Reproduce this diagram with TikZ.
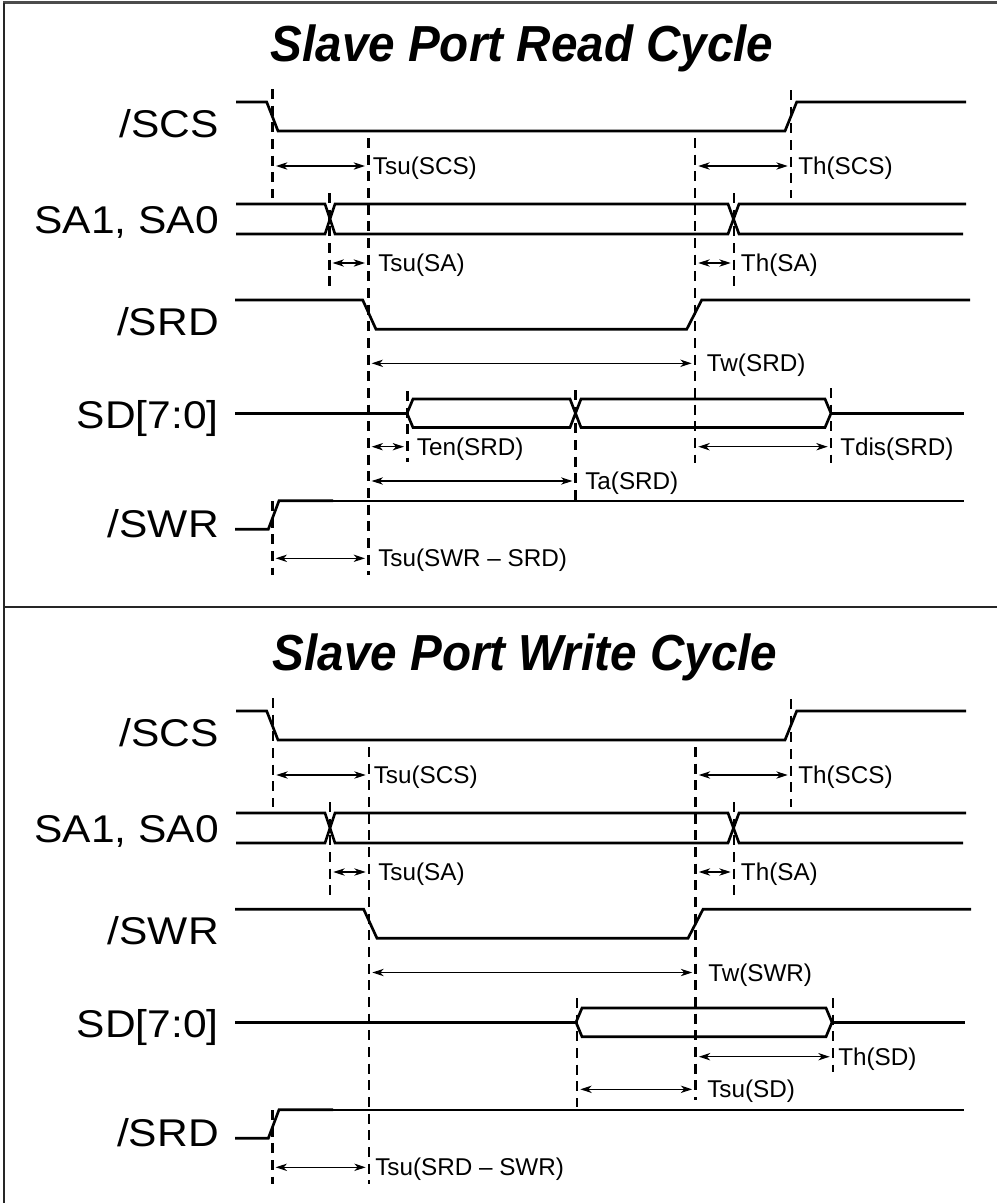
\documentclass[tikz,border=0pt]{standalone}
\usepackage{fontspec}
\setmainfont{Liberation Sans}
\newfontfamily\biglabfont[FakeStretch=1.1]{Liberation Sans}
\newfontfamily\titlefont[FakeStretch=0.94]{Liberation Sans}
\usetikzlibrary{arrows.meta}
\tikzset{
  wave/.style={line width=2pt, line join=miter},
  thinwave/.style={line width=1.6pt},
  guide/.style={line width=1.9pt, dash pattern=on 7.5pt off 5pt},
  dimarr/.style={line width=0.85pt, {Stealth[length=8.5pt,width=5.5pt,inset=2.5pt]}-{Stealth[length=8.5pt,width=5.5pt,inset=2.5pt]}, shorten <=2.5pt, shorten >=2.5pt},
  tlabel/.style={font=\fontsize{18.2pt}{21pt}\selectfont, inner sep=0pt, anchor=base west},
  siglabel/.style={font={\biglabfont\fontsize{29pt}{32pt}\selectfont}, inner sep=0pt, anchor=base east},
  titlelabel/.style={font={\titlefont\fontsize{38pt}{42pt}\selectfont\bfseries\itshape}, inner sep=0pt, anchor=base},
  framegray/.style={line width=1.6pt, draw=black!70},
  framedark/.style={line width=1.5pt, draw=black!85}
}
\newcommand\tmeas[6]{%
  \coordinate (#1L) at (#2,#4);
  \coordinate (#1R) at (#3,#4);
  \draw[dimarr] (#1L) -- (#1R);
  \node[tlabel] (#1T) at (#5,#4+8.6) {#6};}
\newcommand\tguide[4]{%
  \coordinate (#1a) at (#2,#3);
  \coordinate (#1b) at (#2,#4);
  \draw[guide] (#1a) -- (#1b);}
\begin{document}
\begin{tikzpicture}[x=0.75pt,y=-0.75pt]
\useasboundingbox (0,0) rectangle (997,1203);
% frame
\coordinate (ftl) at (3,2.5);
\coordinate (ftr) at (997,2.5);
\coordinate (fbl) at (3.5,1203);
\coordinate (fsl) at (3,606.5);
\coordinate (fsr) at (997,606.5);
\draw[framegray] (ftl) -- (ftr);
\draw[framedark] (3.5,2.5) -- (fbl);
\draw[framedark] (fsl) -- (fsr);

% ================= READ CYCLE =================
\node[titlelabel] (t1) at (522,61) {Slave Port Read Cycle};
\node[siglabel] (r1) at (219,137) {/SCS};
\node[siglabel] (r2) at (219,233) {SA1, SA0};
\node[siglabel] (r3) at (219,335) {/SRD};
\node[siglabel] (r4) at (219,428) {SD[7:0]};
\node[siglabel] (r5) at (219,537) {/SWR};

% guides
\tguide{ga}{272.7}{89}{198}
\tguide{gb}{368.3}{138}{575}
\tguide{gc}{329.3}{193}{288}
\tguide{gd}{695}{138}{463}
\tguide{ge}{791}{90}{198}
\tguide{gf}{734}{193}{288}
\tguide{gg}{407.3}{391}{462}
\tguide{gh}{575.7}{390}{500}
\tguide{gi}{831}{388}{463}
\tguide{gj}{272.3}{501}{575}

% waveforms
\draw[wave] (236,102) -- (266.7,102) -- (278,131) -- (785,131) -- (796.7,102) -- (966,102);
\draw[wave] (236,204) -- (325,204) -- (335,234) -- (728,234) -- (739,204) -- (966,204);
\draw[wave] (236,234) -- (325,234) -- (335,204) -- (728,204) -- (739,234) -- (963,234);
\draw[wave] (235,300) -- (362.7,300) -- (376,329.3) -- (686.7,329.3) -- (701.7,300) -- (970,300);
\draw[wave] (235,413.3) -- (407,413.3);
\draw[wave] (407,413.3) -- (413,399) -- (570,399) -- (581,427.5) -- (825,427.5) -- (831,413.3) -- (825,399) -- (581,399) -- (570,427.5) -- (413,427.5) -- cycle;
\draw[wave] (831,413.3) -- (964,413.3);
\draw[wave] (235,529.3) -- (268.3,529.3) -- (279,500.7) -- (333,500.7);
\draw[thinwave] (333,500.7) -- (964,500.7);

% measurements
\tmeas{m1}{272.7}{368.3}{166}{372.7}{Tsu(SCS)}
\tmeas{m2}{695}{791}{166}{798}{Th(SCS)}
\tmeas{m3}{329.3}{368.3}{263}{378}{Tsu(SA)}
\tmeas{m4}{695}{734}{263}{740.7}{Th(SA)}
\tmeas{m5}{368.3}{695}{363.3}{706.7}{Tw(SRD)}
\tmeas{m6}{368.3}{407.3}{446.7}{416.7}{Ten(SRD)}
\tmeas{m7}{695}{831}{446.7}{840}{Tdis(SRD)}
\tmeas{m8}{368.3}{575.7}{481}{585}{Ta(SRD)}
\tmeas{m9}{272.3}{368.3}{558.3}{378}{Tsu(SWR -- SRD)}

% ================= WRITE CYCLE =================
\node[titlelabel] (t2) at (525,670) {Slave Port Write Cycle};
\node[siglabel] (w1) at (219,746) {/SCS};
\node[siglabel] (w2) at (219,842) {SA1, SA0};
\node[siglabel] (w3) at (219,944) {/SWR};
\node[siglabel] (w4) at (219,1037) {SD[7:0]};
\node[siglabel] (w5) at (219,1146) {/SRD};

\tguide{ha}{273}{698}{807}
\tguide{hb}{369}{747}{1184}
\tguide{hc}{330}{802}{897}
\tguide{hd}{695.5}{747}{1100}
\tguide{he}{791}{699}{807}
\tguide{hf}{734}{802}{897}
\tguide{hg}{577}{998}{1107}
\tguide{hh}{833}{998}{1072}
\tguide{hi}{272.3}{1110}{1184}

\draw[wave] (236,711) -- (266.7,711) -- (278,740) -- (785,740) -- (796.7,711) -- (966,711);
\draw[wave] (236,813) -- (325,813) -- (335,843) -- (728,843) -- (739,813) -- (966,813);
\draw[wave] (236,843) -- (325,843) -- (335,813) -- (728,813) -- (739,843) -- (963,843);
\draw[wave] (235,909.3) -- (363.7,909.3) -- (377,938.3) -- (688,938.3) -- (703,909.3) -- (971,909.3);
\draw[wave] (235,1022.3) -- (576,1022.3);
\draw[wave] (576,1022.3) -- (582,1008) -- (826,1008) -- (832,1022.3) -- (826,1036.7) -- (582,1036.7) -- cycle;
\draw[wave] (832,1022.3) -- (965,1022.3);
\draw[wave] (235,1138.3) -- (268.3,1138.3) -- (279,1109.7) -- (333,1109.7);
\draw[thinwave] (333,1109.7) -- (964,1109.7);

\tmeas{n1}{273}{369}{775}{373.5}{Tsu(SCS)}
\tmeas{n2}{695.5}{791}{775}{798}{Th(SCS)}
\tmeas{n3}{330}{369}{872}{378}{Tsu(SA)}
\tmeas{n4}{695.5}{734}{872}{740.7}{Th(SA)}
\tmeas{n5}{369}{695.5}{972.5}{708}{Tw(SWR)}
\tmeas{n6}{695.5}{833}{1056.7}{838}{Th(SD)}
\tmeas{n7}{577}{695.5}{1089.3}{707}{Tsu(SD)}
\tmeas{n8}{272.3}{369}{1167.3}{375}{Tsu(SRD -- SWR)}
\end{tikzpicture}
\end{document}
